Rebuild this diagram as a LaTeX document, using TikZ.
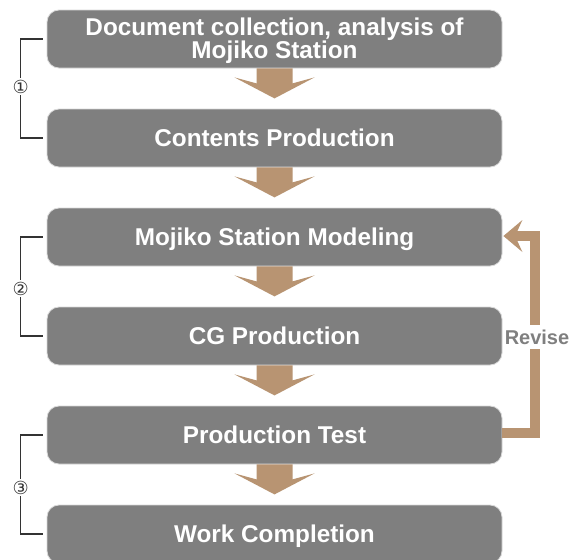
\documentclass[tikz,border=0pt]{standalone}
\usepackage{fontspec}
\usetikzlibrary{calc}
\setmainfont{Liberation Sans}
\newfontfamily\symfont{DejaVu Sans}
\definecolor{boxgray}{HTML}{7F7F7F}
\definecolor{tan}{HTML}{B89472}
\definecolor{brk}{HTML}{333333}
\tikzset{
  stepbox/.style={fill=boxgray, draw=black!15, line width=0.8pt, rounded corners=12pt,
    minimum width=455pt, minimum height=58pt, inner sep=0pt, text=white,
    font=\bfseries\fontsize{24.3}{23}\selectfont, align=center},
  oneline/.style={text height=17.5pt, text depth=0pt},
  bracket/.style={draw=brk, line width=1.3pt},
  num/.style={fill=white, inner xsep=0.5pt, inner ysep=2pt, text=brk, font=\symfont\fontsize{18}{18}\selectfont},
  tanfill/.style={fill=tan},
  revband/.style={draw=tan, line width=10pt, line join=miter},
}
\newcommand\flowarrow[1]{%
  \fill[tanfill] ([shift={(-18,0)}]#1.south) -- ([shift={(18,0)}]#1.south) -- ([shift={(18,15)}]#1.south)
   -- ([shift={(40,9)}]#1.south) -- ([shift={(0,30)}]#1.south) -- ([shift={(-40,9)}]#1.south)
   -- ([shift={(-18,15)}]#1.south) -- cycle;}
\begin{document}
\begin{tikzpicture}[x=1pt,y=-1pt]
\useasboundingbox (0,0) rectangle (579,560);
\clip (0,0) rectangle (579,560);
\fill[white] (0,0) rectangle (579,560);
\node[stepbox] (b1) at (274.5,39) {};
\node[text=white, font=\bfseries\fontsize{24.3}{23}\selectfont, align=center, inner sep=0pt] (t1) at (274.5,41) {Document collection, analysis of\\Mojiko Station};
\node[stepbox, oneline] (b2) at (274.5,138) {Contents Production};
\node[stepbox, oneline] (b3) at (274.5,237) {Mojiko Station Modeling};
\node[stepbox, oneline] (b4) at (274.5,336) {CG Production};
\node[stepbox, oneline] (b5) at (274.5,435) {Production Test};
\node[stepbox, oneline] (b6) at (274.5,534) {Work Completion};
\flowarrow{b1}
\flowarrow{b2}
\flowarrow{b3}
\flowarrow{b4}
\flowarrow{b5}
% revise loop
\draw[revband] ([yshift=2]b5.east) -| ([xshift=33,yshift=1]b3.east) -- ([xshift=15,yshift=1]b3.east);
\fill[tanfill] ([xshift=1,yshift=1]b3.east) -- ([xshift=20,yshift=-15]b3.east) -- ([xshift=15,yshift=-4]b3.east)
  -- ([xshift=15,yshift=6]b3.east) -- ([xshift=20,yshift=17]b3.east) -- cycle;
\node[fill=white, inner xsep=1pt, inner ysep=5pt, text=boxgray, font=\bfseries\fontsize{20}{20}\selectfont] (rev) at (537,337) {Revise};
% brackets
\draw[bracket] ([xshift=-4]b1.west) -- ++(-22,0) coordinate (k1) |- ([xshift=-4]b2.west) coordinate (k2);
\node[num] (n1) at ($(k1)!0.48!(k1|-k2)$) {①};
\draw[bracket] ([xshift=-4]b3.west) -- ++(-22,0) coordinate (k3) |- ([xshift=-4]b4.west) coordinate (k4);
\node[num] (n2) at ($(k3)!0.52!(k3|-k4)$) {②};
\draw[bracket] ([xshift=-4]b5.west) -- ++(-22,0) coordinate (k5) |- ([xshift=-4]b6.west) coordinate (k6);
\node[num] (n3) at ($(k5)!0.53!(k5|-k6)$) {③};
\end{tikzpicture}
\end{document}
